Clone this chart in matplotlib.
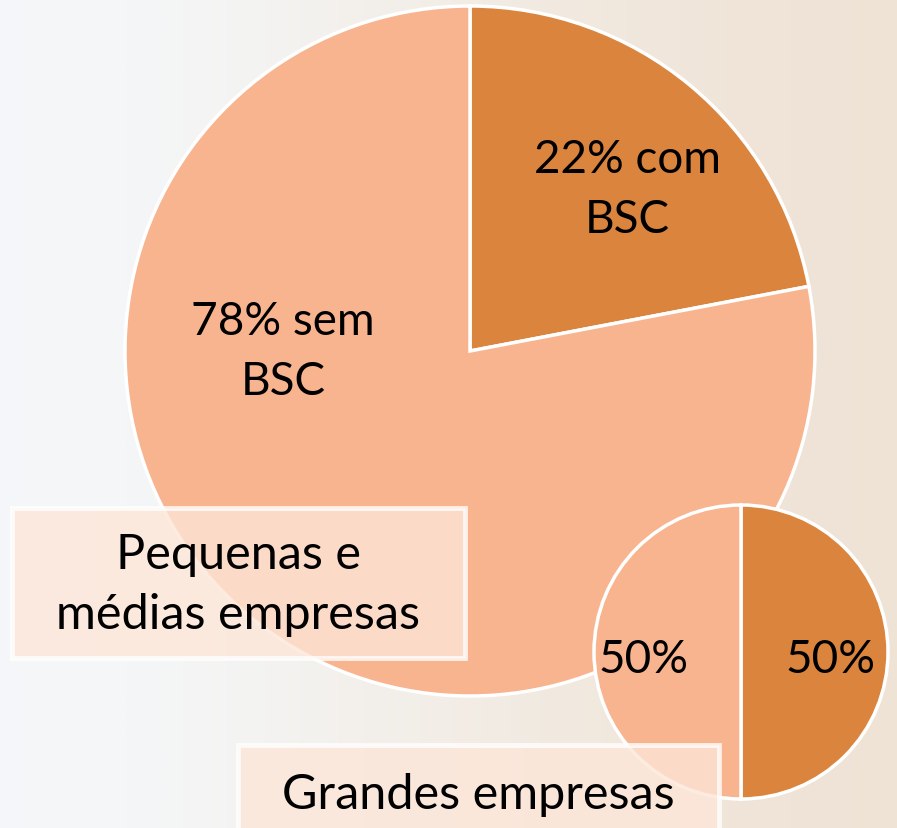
import numpy as np
import matplotlib
matplotlib.use("Agg")
import matplotlib.pyplot as plt
from matplotlib.patches import Rectangle

plt.rcParams["font.family"] = ["Lato", "DejaVu Sans"]

W, H = 897, 829

# data
pme_labels = ["22% com\nBSC", "78% sem\nBSC"]
pme_values = [22, 78]
grandes_labels = ["50%", "50%"]
grandes_values = [50, 50]
group_names = ["Pequenas e\nmédias empresas", "Grandes empresas"]

DARK = "#db843e"
LIGHT = "#f8b48f"

fig = plt.figure(figsize=(W / 100, H / 100), dpi=100)
ax = fig.add_axes([0, 0, 1, 1])

# soft background (photo in the original)
bg = np.array([[[0.96, 0.97, 0.98], [0.95, 0.93, 0.90], [0.94, 0.89, 0.84]]])
ax.imshow(bg, extent=(0, W, 0, H), aspect="auto", interpolation="bicubic", zorder=0)

wp = dict(edgecolor="white", linewidth=2.5)

ax.pie(pme_values, colors=[DARK, LIGHT], startangle=90, counterclock=False,
       center=(470, H - 352), radius=345, wedgeprops=wp, frame=True)
ax.text(627, H - 190, pme_labels[0], ha="center", va="center", fontsize=33, linespacing=1.55, zorder=5)
ax.text(283, H - 352, pme_labels[1], ha="center", va="center", fontsize=33, linespacing=1.55, zorder=5)

box1 = Rectangle((12, H - 659), 453, 150, facecolor="#fde6d8", alpha=0.78,
                 edgecolor="white", linewidth=3.5, zorder=6)
ax.add_patch(box1)
ax.text(238, H - 585, group_names[0], ha="center", va="center", fontsize=35,
        linespacing=1.42, zorder=7)

ax.pie(grandes_values, colors=[DARK, LIGHT], startangle=90, counterclock=False,
       center=(741, H - 653), radius=147, wedgeprops=wp, frame=True)
for w in ax.patches[-2:]:
    w.set_zorder(8)
ax.text(643, H - 660, grandes_labels[1], ha="center", va="center", fontsize=33, zorder=9)
ax.text(830, H - 660, grandes_labels[0], ha="center", va="center", fontsize=33, zorder=9)

box2 = Rectangle((238, H - 840), 481, 94, facecolor="#fde6d8", alpha=0.78,
                 edgecolor="white", linewidth=3.5, zorder=10)
ax.add_patch(box2)
ax.text(478, H - 795, group_names[1], ha="center", va="center", fontsize=35, zorder=11)

ax.set_xlim(0, W)
ax.set_ylim(0, H)
ax.set_aspect("auto")
ax.axis("off")

fig.savefig("out.png", dpi=100)
